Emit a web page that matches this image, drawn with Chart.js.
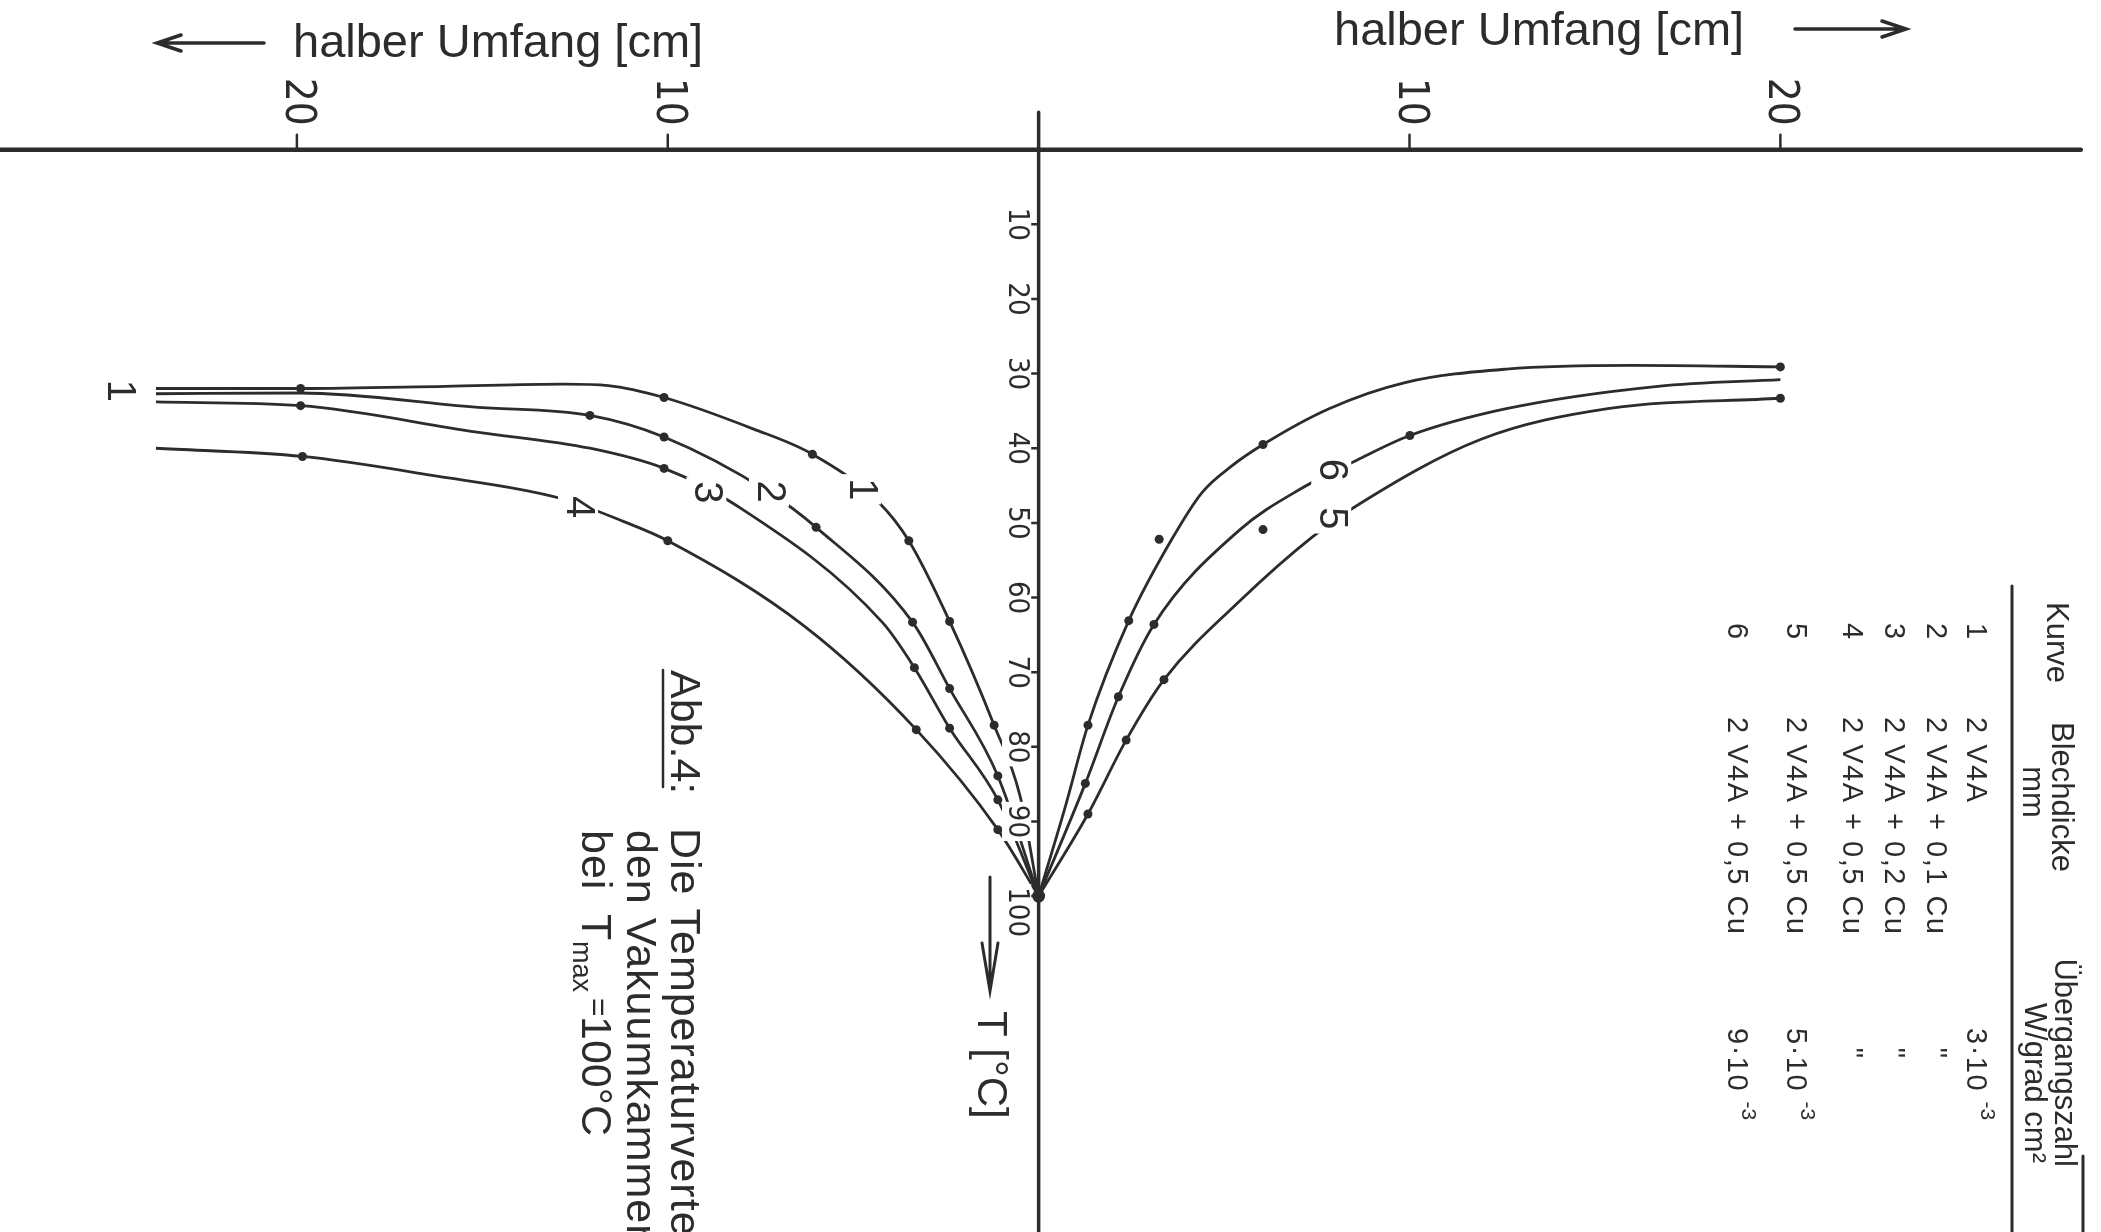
<!DOCTYPE html>
<html>
<head>
<meta charset="utf-8">
<title>Abb. 4 - Temperaturverteilung</title>
<script src="https://cdn.jsdelivr.net/npm/chart.js@4.4.1/dist/chart.umd.min.js"></script>
<style>
  html, body { margin: 0; padding: 0; background: #fff; }
  canvas { display: block; }
</style>
</head>
<body>
<canvas id="chart" width="2101" height="1232"></canvas>
<script>
// Kurven: [halber Umfang (cm, links negativ), T (°C)]
const kurve1 = [[-23.8, 32.0], [-19.9, 32.0], [-16.0, 31.7], [-12.8, 31.4], [-11.6, 31.6], [-10.1, 33.2], [-7.7, 37.4], [-6.1, 40.8], [-4.3, 47.3], [-3.5, 52.4], [-2.4, 63.2], [-1.2, 77.1], [-0.5, 86.6], [0, 100]];
const kurve2 = [[-23.8, 32.7], [-19.9, 32.6], [-15.2, 34.5], [-12.1, 35.6], [-10.1, 38.5], [-7.3, 45.8], [-6.0, 50.6], [-3.4, 63.3], [-2.4, 72.2], [-1.1, 83.9], [0, 100]];
const kurve3 = [[-23.8, 33.8], [-19.9, 34.3], [-15.2, 37.8], [-12.1, 40.0], [-10.1, 42.7], [-8.2, 47.5], [-4.2, 63.4], [-3.35, 69.4], [-2.4, 77.5], [-1.1, 87.1], [0, 100]];
const kurve4 = [[-23.8, 40.0], [-19.85, 41.1], [-16.4, 43.6], [-12.9, 46.7], [-11.2, 49.8], [-10.0, 52.4], [-6.3, 63.9], [-3.3, 77.7], [-1.1, 91.1], [0, 100]];
const kurveOben = [[0, 100], [0.72, 88.0], [1.33, 77.1], [2.43, 63.1], [3.59, 52.2], [4.41, 45.9], [5.2, 42.4], [6.05, 39.5], [7.83, 34.7], [9.88, 31.2], [12.61, 29.4], [16.0, 28.9], [20.0, 29.1]];
const kurve6 = [[0, 100], [1.26, 84.9], [2.15, 73.3], [3.11, 63.6], [5.43, 50.9], [7.08, 45.4], [8.58, 41.6], [10.01, 38.3], [12.61, 34.7], [16.7, 31.7], [20.0, 30.8]];
const kurve5 = [[0, 100], [1.33, 89.0], [2.36, 79.1], [3.38, 71.0], [5.50, 60.1], [7.35, 52.0], [8.51, 47.9], [11.93, 38.8], [15.35, 34.7], [20.0, 33.3]];

// Messpunkte
const punkte1 = [[-19.9, 32.0], [-10.1, 33.2], [-6.1, 40.8], [-3.5, 52.4], [-2.4, 63.2], [-1.2, 77.1]];
const punkte2 = [[-12.1, 35.6], [-10.1, 38.5], [-6.0, 50.6], [-3.4, 63.3], [-2.4, 72.2], [-1.1, 83.9]];
const punkte3 = [[-19.9, 34.3], [-10.1, 42.7], [-3.35, 69.4], [-2.4, 77.5], [-1.1, 87.1]];
const punkte4 = [[-19.85, 41.1], [-10.0, 52.4], [-3.3, 77.7], [-1.1, 91.1]];
const punkteOben = [[1.33, 77.1], [2.43, 63.1], [3.25, 52.2], [6.05, 39.5], [20.0, 29.1]];
const punkte6 = [[1.26, 84.9], [2.15, 73.3], [3.11, 63.6], [6.05, 50.9], [10.01, 38.3]];
const punkte5 = [[1.33, 89.0], [2.36, 79.1], [3.38, 71.0], [20.0, 33.3]];
const zentrum = [[0, 100]];

// Achsen
const xTicks = [-20, -10, 10, 20];
const tTicks = [10, 20, 30, 40, 50, 60, 70, 80, 90, 100];

// Tabelle
const kurvenNr = ['1', '2', '3', '4', '5', '6'];
const blechdicke = ['2 V4A', '2 V4A + 0,1 Cu', '2 V4A + 0,2 Cu', '2 V4A + 0,5 Cu', '2 V4A + 0,5 Cu', '2 V4A + 0,5 Cu'];
const uebergangBasis = ['3·10', '"', '"', '"', '5·10', '9·10'];
const uebergangExp = ['-3', '', '', '', '-3', '-3'];

// Kurvennummern im Diagramm [text, x, T]
const kurvenLabels = [['1', -24.8, 32.3], ['1', -4.79, 45.5], ['2', -7.27, 45.8], ['3', -8.96, 45.9], ['4', -12.42, 47.9], ['6', 7.89, 42.9], ['5', 7.89, 49.4]];

const ink = '#2c2c2c';
const narrow = '"Liberation Sans Narrow", "DejaVu Sans Condensed", "Liberation Sans", sans-serif';
const sans = '"Liberation Sans", Arial, sans-serif';

const toXY = arr => arr.map(p => ({ x: p[0], y: p[1] }));

function curve(label, arr) {
    return {
        label: label,
        data: toXY(arr),
        showLine: true,
        borderColor: ink,
        borderWidth: 2.8,
        pointRadius: 0,
        cubicInterpolationMode: 'monotone',
        fill: false
    };
}

function dots(label, arr, r) {
    return {
        label: label,
        data: toXY(arr),
        showLine: false,
        pointRadius: r || 4.5,
        pointBackgroundColor: ink,
        pointBorderColor: ink,
        pointBorderWidth: 0
    };
}

// rotated text (reads top to bottom)
function rotText(ctx, text, x, y, font, align, base, ls) {
    ctx.save();
    ctx.translate(x, y);
    ctx.rotate(Math.PI / 2);
    ctx.font = font;
    ctx.letterSpacing = ls || '0px';
    ctx.fillStyle = ink;
    ctx.textAlign = align || 'left';
    ctx.textBaseline = base || 'alphabetic';
    ctx.fillText(text, 0, 0);
    ctx.restore();
}

function textLen(ctx, text, font, ls) {
    ctx.save();
    ctx.font = font;
    ctx.letterSpacing = ls || '0px';
    const w = ctx.measureText(text).width;
    ctx.restore();
    return w;
}

function rotBoxed(ctx, text, cx, cy, size, font, pad) {
    const len = textLen(ctx, text, font);
    const h = size * 0.8;
    ctx.save();
    ctx.fillStyle = '#fff';
    ctx.fillRect(cx - h / 2 - pad, cy - len / 2 - pad, h + 2 * pad, len + 2 * pad);
    ctx.restore();
    rotText(ctx, text, cx, cy, font, 'center', 'middle');
}

function arrow(ctx, x1, y1, x2, y2, head, spread) {
    const a = Math.atan2(y2 - y1, x2 - x1);
    ctx.beginPath();
    ctx.moveTo(x1, y1);
    ctx.lineTo(x2, y2);
    ctx.moveTo(x2 - head * Math.cos(a) + spread * Math.sin(a), y2 - head * Math.sin(a) - spread * Math.cos(a));
    ctx.lineTo(x2, y2);
    ctx.lineTo(x2 - head * Math.cos(a) - spread * Math.sin(a), y2 - head * Math.sin(a) + spread * Math.cos(a));
    ctx.stroke();
}

// axes drawn under the curves, texts on top
const axesPlugin = {
    id: 'axesPlugin',
    beforeDatasetsDraw(chart) {
        const { ctx, scales: { x, y } } = chart;
        const x0 = x.getPixelForValue(0);
        const y0 = y.getPixelForValue(0);
        ctx.save();
        ctx.strokeStyle = ink;
        ctx.lineCap = 'round';

        // horizontal axis
        ctx.lineWidth = 4.5;
        ctx.beginPath();
        ctx.moveTo(0, y0);
        ctx.lineTo(x.getPixelForValue(28.1), y0);
        ctx.stroke();

        // vertical axis
        ctx.lineWidth = 3.5;
        ctx.beginPath();
        ctx.moveTo(x0, y.getPixelForValue(-5));
        ctx.lineTo(x0, chart.height);
        ctx.stroke();

        // ticks
        ctx.lineWidth = 2.5;
        xTicks.forEach(v => {
            const px = x.getPixelForValue(v);
            ctx.beginPath();
            ctx.moveTo(px, y0);
            ctx.lineTo(px, y0 - 15);
            ctx.stroke();
        });
        tTicks.forEach(v => {
            const py = y.getPixelForValue(v);
            ctx.beginPath();
            ctx.moveTo(x0, py);
            ctx.lineTo(x0 - 11, py);
            ctx.stroke();
        });
        ctx.restore();
    },

    afterDatasetsDraw(chart) {
        const { ctx, scales: { x, y } } = chart;
        const x0 = x.getPixelForValue(0);
        const y0 = y.getPixelForValue(0);
        ctx.save();
        ctx.strokeStyle = ink;
        ctx.fillStyle = ink;

        // tick labels
        xTicks.forEach(v => {
            rotText(ctx, String(Math.abs(v)), x.getPixelForValue(v), y0 - 48, '42px ' + narrow, 'center', 'middle');
        });
        tTicks.forEach(v => {
            const py = y.getPixelForValue(v) + (v === 100 ? 16 : 0);
            rotBoxed(ctx, String(v), x0 - 22, py, 29, '29px ' + narrow, 3);
        });

        // curve numbers
        kurvenLabels.forEach(l => {
            rotBoxed(ctx, l[0], x.getPixelForValue(l[1]), y.getPixelForValue(l[2]), 40, '40px ' + sans, 4);
        });

        // axis titles
        ctx.font = '47px ' + sans;
        ctx.textAlign = 'left';
        ctx.textBaseline = 'alphabetic';
        ctx.fillText('halber Umfang [cm]', 293, 57);
        ctx.fillText('halber Umfang [cm]', 1334, 45);
        ctx.lineWidth = 3.5;
        ctx.lineCap = 'round';
        arrow(ctx, 264, 43, 157, 43, 24, 8);
        arrow(ctx, 1795, 29, 1906, 29, 24, 8);

        // T axis title
        ctx.lineWidth = 3;
        arrow(ctx, 990, 877, 990, 991, 48, 8);
        rotText(ctx, 'T [°C]', 978, 1011, '42px ' + sans);

        // caption
        const fCap = '43px ' + sans;
        const fSub = '27px ' + sans;
        rotText(ctx, 'Abb.4:', 671, 670, fCap);
        ctx.lineWidth = 2.5;
        ctx.beginPath();
        ctx.moveTo(663, 670);
        ctx.lineTo(663, 787);
        ctx.stroke();
        rotText(ctx, 'Die Temperaturverte', 671, 828, fCap, 'left', 'alphabetic', '1px');
        rotText(ctx, 'den Vakuumkammer', 627, 830, fCap, 'left', 'alphabetic', '1px');
        rotText(ctx, 'bei', 582, 830, fCap, 'left', 'alphabetic', '1px');
        rotText(ctx, 'T', 582, 914, fCap);
        rotText(ctx, 'max', 573, 941, fSub);
        rotText(ctx, '=', 588, 998, '32px ' + sans);
        rotText(ctx, '100°C', 582, 1016, fCap);

        // table
        const fHead = '31px ' + sans;
        const fRow = '29px ' + sans;
        const fExp = '21px ' + sans;
        rotText(ctx, 'Kurve', 2047, 602, fHead);
        rotText(ctx, 'Blechdicke', 2052, 722, fHead);
        rotText(ctx, 'mm', 2023, 792, fHead, 'center');
        rotText(ctx, 'Übergangszahl', 2055, 1167, fHead, 'right');
        rotText(ctx, 'W/grad cm²', 2025, 1163, fHead, 'right');
        ctx.lineWidth = 3;
        ctx.beginPath();
        ctx.moveTo(2012, 586);
        ctx.lineTo(2012, 1232);
        ctx.moveTo(2083, 1156);
        ctx.lineTo(2083, 1232);
        ctx.stroke();

        const rowBase = [1967, 1927, 1885, 1843, 1787, 1728];
        kurvenNr.forEach((nr, i) => {
            const bx = rowBase[i];
            rotText(ctx, nr, bx, 631, fRow, 'center');
            rotText(ctx, blechdicke[i], bx, 717, fRow, 'left', 'alphabetic', '1.5px');
            if (uebergangExp[i]) {
                rotText(ctx, uebergangBasis[i], bx, 1028, fRow, 'left', 'alphabetic', '1.5px');
                const l = textLen(ctx, uebergangBasis[i] + ' ', fRow, '1.5px');
                rotText(ctx, uebergangExp[i], bx + 14, 1028 + l, fExp);
            } else {
                rotText(ctx, uebergangBasis[i], bx, 1053, fRow, 'center');
            }
        });

        ctx.restore();
    }
};

const chart = new Chart(document.getElementById('chart'), {
    type: 'scatter',
    data: {
        datasets: [
            curve('Kurve 1', kurve1),
            curve('Kurve 2', kurve2),
            curve('Kurve 3', kurve3),
            curve('Kurve 4', kurve4),
            curve('Kurve rechts oben', kurveOben),
            curve('Kurve 6', kurve6),
            curve('Kurve 5', kurve5),
            dots('Messpunkte 1', punkte1),
            dots('Messpunkte 2', punkte2),
            dots('Messpunkte 3', punkte3),
            dots('Messpunkte 4', punkte4),
            dots('Messpunkte rechts oben', punkteOben),
            dots('Messpunkte 6', punkte6),
            dots('Messpunkte 5', punkte5),
            dots('Tmax', zentrum, 6.5)
        ]
    },
    options: {
        responsive: false,
        animation: false,
        devicePixelRatio: 1,
        layout: { padding: 0 },
        plugins: {
            legend: { display: false },
            tooltip: { enabled: false }
        },
        scales: {
            x: { type: 'linear', display: false, min: -27.83, max: 28.47 },
            y: { type: 'linear', display: false, reverse: true, min: -19.18, max: 144.13 }
        }
    },
    plugins: [axesPlugin, {
        id: 'paper',
        beforeDraw(c) {
            c.ctx.save();
            c.ctx.fillStyle = '#fff';
            c.ctx.fillRect(0, 0, c.width, c.height);
            c.ctx.restore();
        }
    }]
});
</script>
</body>
</html>
